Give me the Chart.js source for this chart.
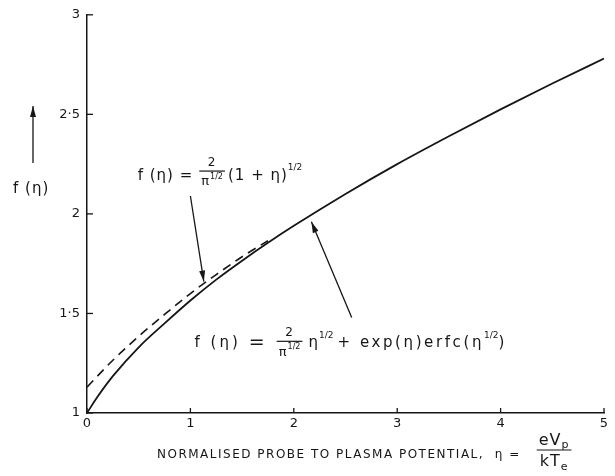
<!DOCTYPE html>
<html>
<head>
<meta charset="utf-8">
<script src="https://cdn.jsdelivr.net/npm/chart.js@4.4.1/dist/chart.umd.min.js"></script>
<style>
  html, body { margin: 0; background: #fff; }
  canvas { display: block; }
</style>
</head>
<body>
<canvas id="fChart" width="615" height="476"></canvas>
<script>
// f(eta) = 2/pi^1/2 eta^1/2 + exp(eta) erfc(eta^1/2)
const eta = [0, 0.1, 0.25, 0.5, 0.75, 1, 1.25, 1.5, 1.75, 2, 2.5, 3, 3.5, 4, 4.5, 5];
const fExact = [1.00, 1.08, 1.185, 1.33, 1.45, 1.565, 1.67, 1.765, 1.855, 1.94, 2.10, 2.25, 2.39, 2.525, 2.655, 2.78];
// f(eta) = 2/pi^1/2 (1 + eta)^1/2, only drawn where it separates from the curve above
const etaApprox = [0, 0.25, 0.5, 0.75, 1, 1.25, 1.5, 1.75];
const fApprox = [1.13, 1.265, 1.385, 1.495, 1.60, 1.695, 1.785, 1.865];

const xTicks = [0, 1, 2, 3, 4, 5];
const yTicks = [1, 1.5, 2, 2.5, 3];

const ink = '#161616';
const face = '"DejaVu Sans", sans-serif';

function pts(xs, ys) {
  return xs.map((x, i) => ({ x: x, y: ys[i] }));
}

// draws a run of text pieces left to right, returns the end x
function run(ctx, x, y, parts, dry) {
  parts.forEach(p => {
    if (p.gap) { x += p.gap; return; }
    if (p.frac) { x += frac(ctx, x, y, p, dry); return; }
    ctx.font = (p.size || 15) + 'px ' + face;
    ctx.letterSpacing = (p.ls === undefined ? 1 : p.ls) + 'px';
    if (!dry) ctx.fillText(p.s, x, y + (p.dy || 0));
    x += ctx.measureText(p.s).width;
  });
  return x;
}

function frac(ctx, x, y, p, dry) {
  const nw = run(ctx, 0, 0, p.num, true);
  const dw = run(ctx, 0, 0, p.den, true);
  const w = Math.max(nw, dw) + 4;
  if (dry) return w;
  const barY = y + p.bar;
  ctx.beginPath();
  ctx.moveTo(x, barY);
  ctx.lineTo(x + w, barY);
  ctx.lineWidth = 1.2;
  ctx.stroke();
  run(ctx, x + (w - nw) / 2, barY - p.up, p.num);
  run(ctx, x + (w - dw) / 2, barY + p.down, p.den);
  return w;
}

function arrow(ctx, x0, y0, x1, y1) {
  const a = Math.atan2(y1 - y0, x1 - x0);
  ctx.beginPath();
  ctx.moveTo(x0, y0);
  ctx.lineTo(x1, y1);
  ctx.lineWidth = 1.3;
  ctx.stroke();
  ctx.beginPath();
  ctx.moveTo(x1, y1);
  ctx.lineTo(x1 - 11 * Math.cos(a) + 3 * Math.sin(a), y1 - 11 * Math.sin(a) - 3 * Math.cos(a));
  ctx.lineTo(x1 - 11 * Math.cos(a) - 3 * Math.sin(a), y1 - 11 * Math.sin(a) + 3 * Math.cos(a));
  ctx.closePath();
  ctx.fill();
}

const half = [{ s: '1/2', size: 9, dy: -8, ls: 0 }];
const piHalf = [{ s: 'π', size: 13 }, { s: '1/2', size: 8, dy: -5, ls: 0 }];

const labelApprox = [
  { s: 'f (η) =' }, { gap: 6 },
  { frac: true, bar: -5, up: 8, down: 11, num: [{ s: '2', size: 12 }], den: piHalf },
  { gap: 3 }, { s: '(1 + η)' }, ...half
];
const labelExact = [
  { s: 'f (η)', ls: 3 }, { gap: 8 }, { s: '=', size: 19, ls: 0 }, { gap: 12 },
  { frac: true, bar: -2, up: 8, down: 11, num: [{ s: '2', size: 12 }], den: piHalf },
  { gap: 6 }, { s: 'η' }, ...half, { gap: 4 }, { s: '+ exp(η)erfc(η', ls: 2.6 }, ...half, { s: ')' }
];
const xTitle = [
  { s: 'NORMALISED PROBE TO PLASMA POTENTIAL,  η =', size: 12, ls: 1.5 }, { gap: 16 },
  { frac: true, bar: -5, up: 9, down: 12,
    num: [{ s: 'eV', size: 16 }, { s: 'p', size: 11, dy: 4 }],
    den: [{ s: 'kT', size: 16 }, { s: 'e', size: 11, dy: 5 }] }
];

const decor = {
  id: 'decor',
  afterDraw(chart) {
    const ctx = chart.ctx;
    const xs = chart.scales.x, ys = chart.scales.y;
    const a = chart.chartArea;
    ctx.save();
    ctx.strokeStyle = ink;
    ctx.fillStyle = ink;
    ctx.lineWidth = 1.3;

    // tick marks point into the plot
    xTicks.forEach(v => {
      const px = xs.getPixelForValue(v);
      ctx.beginPath(); ctx.moveTo(px, a.bottom); ctx.lineTo(px, a.bottom - 5); ctx.stroke();
    });
    yTicks.forEach(v => {
      const py = ys.getPixelForValue(v);
      ctx.beginPath(); ctx.moveTo(a.left, py); ctx.lineTo(a.left + 6, py); ctx.stroke();
    });

    ctx.textBaseline = 'middle';
    ctx.textAlign = 'left';

    // y-axis label with arrow
    arrow(ctx, 33, 163, 33, 106);
    run(ctx, 13, 189, [{ s: 'f (η)' }]);

    // labels for the two curves
    run(ctx, xs.getPixelForValue(0.49), ys.getPixelForValue(2.19), labelApprox);
    arrow(ctx, xs.getPixelForValue(1.0), ys.getPixelForValue(2.09), xs.getPixelForValue(1.13), ys.getPixelForValue(1.66));
    run(ctx, xs.getPixelForValue(1.04), ys.getPixelForValue(1.35), labelExact);
    arrow(ctx, xs.getPixelForValue(2.56), ys.getPixelForValue(1.48), xs.getPixelForValue(2.17), ys.getPixelForValue(1.96));

    // x-axis title
    run(ctx, 157, 455, xTitle);
    ctx.restore();
  }
};

new Chart(document.getElementById('fChart'), {
  type: 'line',
  data: {
    datasets: [
      {
        label: 'exact',
        data: pts(eta, fExact),
        borderColor: ink,
        borderWidth: 1.8,
        pointRadius: 0,
        cubicInterpolationMode: 'monotone'
      },
      {
        label: 'approx',
        data: pts(etaApprox, fApprox),
        borderColor: ink,
        borderWidth: 1.6,
        borderDash: [9, 6],
        pointRadius: 0,
        cubicInterpolationMode: 'monotone'
      }
    ]
  },
  options: {
    responsive: false,
    animation: false,
    layout: { padding: { top: 12, right: 11, left: 0, bottom: 0 } },
    plugins: { legend: { display: false }, tooltip: { enabled: false } },
    scales: {
      x: {
        type: 'linear', min: 0, max: 5,
        afterBuildTicks: s => { s.ticks = xTicks.map(v => ({ value: v })); },
        afterFit: s => { s.height = 63; },
        ticks: { color: ink, font: { family: face, size: 13 }, padding: 3 },
        grid: { display: false, drawTicks: false },
        border: { display: true, color: ink, width: 1.5 }
      },
      y: {
        type: 'linear', min: 1, max: 3,
        afterBuildTicks: s => { s.ticks = yTicks.map(v => ({ value: v })); },
        afterFit: s => { s.width = 87; },
        ticks: {
          color: ink, font: { family: face, size: 13 }, padding: 7,
          callback: v => String(v).replace('.', '·')
        },
        grid: { display: false, drawTicks: false },
        border: { display: true, color: ink, width: 1.5 }
      }
    }
  },
  plugins: [decor]
});
</script>
</body>
</html>
